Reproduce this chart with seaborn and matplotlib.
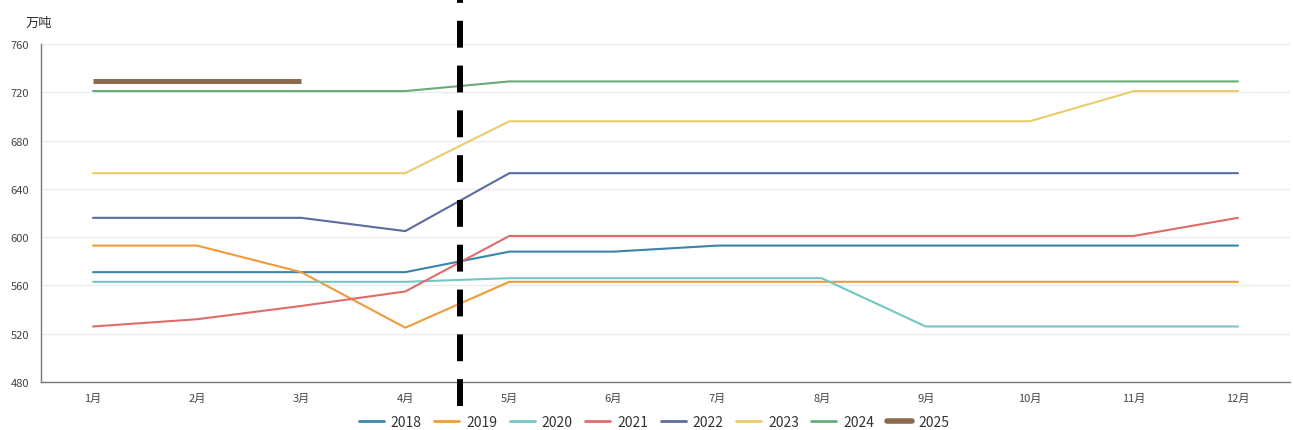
import pandas as pd
import seaborn as sns
import matplotlib.pyplot as plt
from matplotlib.lines import Line2D

# --- datos (万吨) ---
meses = ["1月", "2月", "3月", "4月", "5月", "6月", "7月", "8月", "9月", "10月", "11月", "12月"]
anios = ["2018", "2019", "2020", "2021", "2022", "2023", "2024", "2025"]

v2018 = [571, 571, 571, 571, 588, 588, 593, 593, 593, 593, 593, 593]
v2019 = [593, 593, 571, 525, 563, 563, 563, 563, 563, 563, 563, 563]
v2020 = [563, 563, 563, 563, 566, 566, 566, 566, 526, 526, 526, 526]
v2021 = [526, 532, 543, 555, 601, 601, 601, 601, 601, 601, 601, 616]
v2022 = [616, 616, 616, 605, 653, 653, 653, 653, 653, 653, 653, 653]
v2023 = [653, 653, 653, 653, 696, 696, 696, 696, 696, 696, 721, 721]
v2024 = [721, 721, 721, 721, 729, 729, 729, 729, 729, 729, 729, 729]
v2025 = [729, 729, 729]

colores = {
    "2018": "#3a84a8",
    "2019": "#f09a3a",
    "2020": "#73c7c4",
    "2021": "#e06b6b",
    "2022": "#5c6c9c",
    "2023": "#e8cd6a",
    "2024": "#6aab7c",
    "2025": "#8c6a4e",
}

# línea divisoria vertical (posición en meses)
divisor = 4.53

series = [v2018, v2019, v2020, v2021, v2022, v2023, v2024, v2025]
filas = []
for anio, vals in zip(anios, series):
    for i, v in enumerate(vals):
        filas.append({"mes": i + 1, "anio": anio, "valor": v})
df = pd.DataFrame(filas)

sns.set_style("white")
plt.rcParams["font.family"] = ["Noto Sans CJK SC", "DejaVu Sans"]

fig = plt.figure(figsize=(12.93, 4.31), dpi=100)
ax = fig.add_axes([41 / 1293, 48 / 431, 1249 / 1293, 338 / 431])

sns.lineplot(data=df, x="mes", y="valor", hue="anio", hue_order=anios,
             palette=colores, linewidth=1.5, legend=False, ax=ax)
for linea, anio in zip(ax.get_lines(), anios):
    if anio == "2025":
        linea.set_linewidth(3.6)
        linea.set_solid_capstyle("butt")

ax.set_xlim(0.5, 12.5)
ax.set_ylim(480, 760)
ax.set_yticks(range(480, 761, 40))
ax.set_xticks(range(1, 13))
ax.set_xticklabels(meses)
ax.set_xlabel("")
ax.set_ylabel("")
ax.grid(axis="y", color="#ececec", linewidth=1)
ax.set_axisbelow(True)

for lado in ["top", "right"]:
    ax.spines[lado].set_visible(False)
for lado in ["left", "bottom"]:
    ax.spines[lado].set_color("#777777")
    ax.spines[lado].set_linewidth(1)
ax.tick_params(axis="both", colors="#777777", length=5, width=1, labelsize=8,
               labelcolor="#444444")
ax.tick_params(axis="x", pad=3)

ax.text(-0.012, 1.045, "万吨", transform=ax.transAxes, fontsize=9.5, color="#333333",
        ha="left", va="bottom")

ax.axvline(divisor, ymin=-0.07, ymax=1.13, color="black", linewidth=4.3,
           linestyle=(0, (4.5, 3)), dash_capstyle="butt", clip_on=False, zorder=5)

handles = [Line2D([0], [0], color=colores[a], linewidth=4 if a == "2025" else 2)
           for a in anios]
fig.legend(handles, anios, loc="center", bbox_to_anchor=(0.506, 0.018),
           ncol=len(anios), frameon=False, fontsize=10, handlelength=1.8,
           handletextpad=0.5, columnspacing=0.9, labelcolor="#333333")

plt.savefig("out.png", dpi=100)
plt.close()
